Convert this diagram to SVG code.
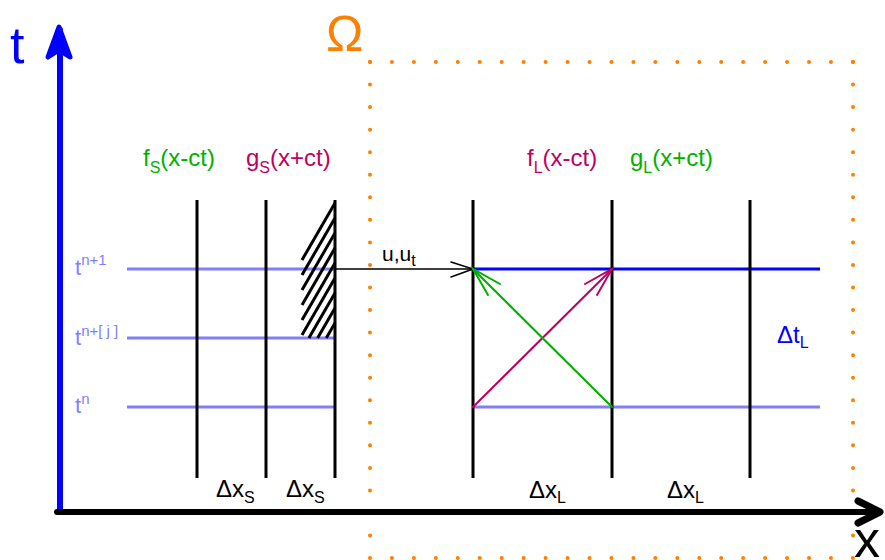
<svg xmlns="http://www.w3.org/2000/svg" width="885" height="560" viewBox="0 0 885 560">
<style>
text{font-family:"Liberation Sans",Arial,sans-serif}
.grid{stroke:#000;stroke-width:3;fill:none}
.lb{stroke:#8080ff;stroke-width:3;fill:none}
.hatch{stroke:#000;stroke-width:3;stroke-linecap:butt}
.dot{stroke:#ff8000;stroke-width:4;stroke-linecap:round;fill:none}
.lab{font-size:24px}
.sub{font-size:16px}
.tl{fill:#8080ff;font-size:22px}
.sup{font-size:15px}
</style>
<rect width="885" height="560" fill="#fff"/>
<g id="domain">
<line class="dot" x1="370" y1="62" x2="853" y2="62" stroke-dasharray="0 21.95"/>
<line class="dot" x1="370" y1="62" x2="370" y2="558" stroke-dasharray="0 22.55"/>
<line class="dot" x1="853" y1="62" x2="853" y2="558" stroke-dasharray="0 22.55"/>
<line class="dot" x1="370" y1="558" x2="853" y2="558" stroke-dasharray="0 21.95"/>
<text x="326" y="51" font-size="50" fill="#ff8000">Ω</text>
</g>
<g id="time-levels">
<line class="lb" x1="127" y1="269" x2="335" y2="269"/>
<line class="lb" x1="127" y1="338" x2="335" y2="338"/>
<line class="lb" x1="127" y1="407" x2="335" y2="407"/>
<line class="lb" x1="473" y1="407" x2="820" y2="407"/>
<line x1="473" y1="269" x2="820" y2="269" stroke="#0000ff" stroke-width="3"/>
<text class="tl" x="75" y="275">t<tspan class="sup" dy="-10">n+1</tspan></text>
<text class="tl" x="75" y="345">t<tspan class="sup" dy="-9">n+[ j ]</tspan></text>
<text class="tl" x="75" y="413">t<tspan class="sup" dy="-9">n</tspan></text>
</g>
<g id="grid-small">
<line class="grid" x1="197" y1="200" x2="197" y2="478"/>
<line class="grid" x1="266" y1="200" x2="266" y2="478"/>
<line class="grid" x1="335" y1="200" x2="335" y2="478"/>
</g>
<g id="grid-large">
<line class="grid" x1="473" y1="200" x2="473" y2="478"/>
<line class="grid" x1="612" y1="200" x2="612" y2="478"/>
<line class="grid" x1="750" y1="200" x2="750" y2="478"/>
</g>
<g id="hatching">
<line class="hatch" x1="302" y1="260" x2="335" y2="203"/>
<line class="hatch" x1="302" y1="275" x2="335" y2="218"/>
<line class="hatch" x1="302" y1="290" x2="335" y2="233"/>
<line class="hatch" x1="302" y1="305" x2="335" y2="248"/>
<line class="hatch" x1="302" y1="320" x2="335" y2="263"/>
<line class="hatch" x1="302" y1="335" x2="335" y2="278"/>
<line class="hatch" x1="308.9" y1="338" x2="335" y2="293"/>
<line class="hatch" x1="317.6" y1="338" x2="335" y2="308"/>
<line class="hatch" x1="326.3" y1="338" x2="335" y2="323"/>
</g>
<g id="connectors" fill="none" stroke-linecap="round">
<line x1="335" y1="269" x2="473" y2="269" stroke="#000" stroke-width="1.5"/>
<polyline points="451,262 473,269 451,277" stroke="#000" stroke-width="1.5"/>
<line x1="473" y1="407" x2="612" y2="269" stroke="#bf0060" stroke-width="2"/>
<polyline points="585,284 612,269 597,295" stroke="#bf0060" stroke-width="2"/>
<line x1="612" y1="407" x2="473" y2="269" stroke="#00b000" stroke-width="2"/>
<polyline points="500,284 473,269 488,295" stroke="#00b000" stroke-width="2"/>
</g>
<g id="axes" fill="none" stroke-linecap="round" stroke-linejoin="round">
<line x1="60" y1="512" x2="60" y2="30" stroke="#0000ff" stroke-width="6"/>
<path d="M48,57 L59,27 L70,57 L59,50 Z" fill="#0000ff" stroke="#0000ff" stroke-width="5"/>
<line x1="57" y1="512" x2="875" y2="512" stroke="#000" stroke-width="6"/>
<polyline points="858,501 880,512 858,523" stroke="#000" stroke-width="7"/>
</g>
<g id="labels">
<text x="10" y="63" font-size="52" fill="#0000ff">t</text>
<text x="854" y="557" font-size="52" fill="#000">x</text>
<text class="lab" x="143" y="166" fill="#00b000">f<tspan class="sub" dy="7">S</tspan><tspan dy="-7">(x-ct)</tspan></text>
<text class="lab" x="246" y="166" fill="#bf0060">g<tspan class="sub" dy="7">S</tspan><tspan dy="-7">(x+ct)</tspan></text>
<text class="lab" x="527" y="166" fill="#bf0060">f<tspan class="sub" dy="7">L</tspan><tspan dy="-7">(x-ct)</tspan></text>
<text class="lab" x="630" y="166" fill="#00b000">g<tspan class="sub" dy="7">L</tspan><tspan dy="-7">(x+ct)</tspan></text>
<text x="382" y="261" font-size="21">u,u<tspan class="sub" dy="5">t</tspan></text>
<text class="lab" x="777" y="343" fill="#0000ff">Δt<tspan class="sub" dy="5">L</tspan></text>
<text class="lab" x="216" y="497">Δx<tspan class="sub" dy="6">S</tspan></text>
<text class="lab" x="286" y="497">Δx<tspan class="sub" dy="6">S</tspan></text>
<text class="lab" x="529" y="498">Δx<tspan class="sub" dy="5">L</tspan></text>
<text class="lab" x="667" y="498">Δx<tspan class="sub" dy="5">L</tspan></text>
</g>
</svg>
